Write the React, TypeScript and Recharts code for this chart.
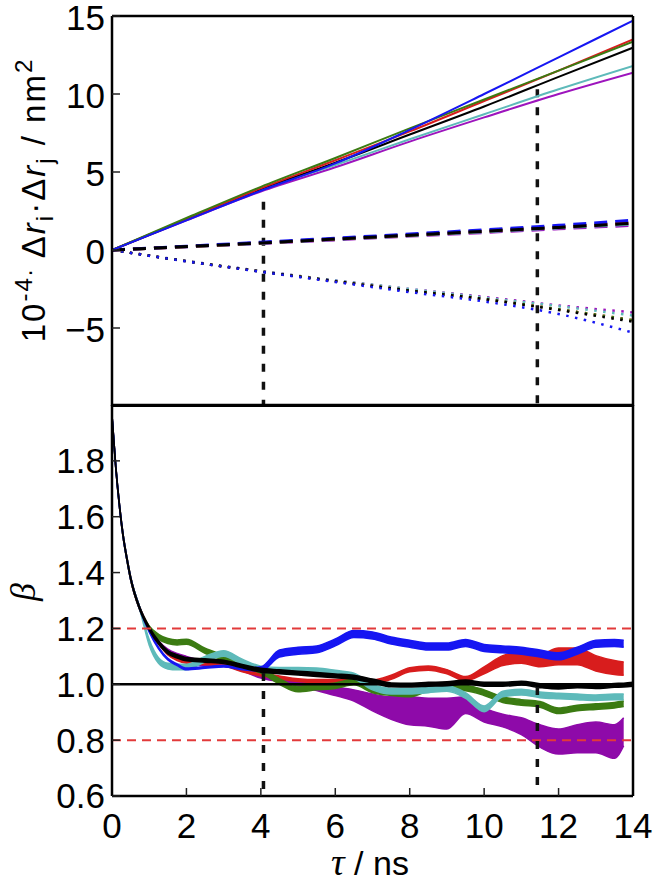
import { Area, ComposedChart, Line, ReferenceLine, XAxis, YAxis } from "recharts"

const SANS = "'Liberation Sans', Arial, sans-serif"
const SERIF = "'Liberation Serif', 'DejaVu Serif', serif"

// colours
const BLUE = "#1616f2"
const RED = "#d81d1d"
const GREEN = "#3b7b12"
const CYAN = "#5ebaba"
const PURPLE = "#9d14bd"
const BAND_PURPLE = "#8e0aa9"

// ---- upper panel: mean squared displacement components ----
const topTau = [0, 2, 4, 6, 8, 10, 12, 14]

const solidBlue = [0, 1.9, 3.8, 5.55, 7.7, 10.0, 12.35, 14.7]
const solidRed = [0, 2.0, 3.95, 5.75, 7.6, 9.55, 11.5, 13.5]
const solidGreen = [0, 2.05, 4.05, 5.9, 7.8, 9.65, 11.5, 13.36]
const solidBlack = [0, 1.95, 3.9, 5.6, 7.4, 9.2, 11.1, 12.97]
const solidCyan = [0, 1.95, 3.85, 5.45, 7.1, 8.7, 10.3, 11.8]
const solidPurple = [0, 1.9, 3.75, 5.3, 6.95, 8.5, 10.0, 11.37]

const dashBlue = [0, 0.24, 0.5, 0.76, 1.02, 1.3, 1.58, 1.92]
const dashRed = [0, 0.22, 0.46, 0.71, 0.96, 1.22, 1.48, 1.75]
const dashGreen = [0, 0.22, 0.46, 0.71, 0.96, 1.21, 1.47, 1.74]
const dashCyan = [0, 0.21, 0.44, 0.68, 0.92, 1.17, 1.42, 1.66]
const dashPurple = [0, 0.2, 0.42, 0.65, 0.89, 1.12, 1.36, 1.58]
const dashBlack = [0, 0.22, 0.45, 0.7, 0.95, 1.2, 1.45, 1.72]

const dotPurple = [0, -0.7, -1.35, -1.95, -2.5, -3.0, -3.55, -4.0]
const dotCyan = [0, -0.7, -1.35, -1.95, -2.5, -3.05, -3.6, -4.2]
const dotRed = [0, -0.72, -1.38, -2.0, -2.6, -3.15, -3.8, -4.5]
const dotGreen = [0, -0.72, -1.38, -2.0, -2.6, -3.15, -3.8, -4.5]
const dotBlack = [0, -0.72, -1.38, -2.0, -2.6, -3.15, -3.85, -4.6]
const dotBlue = [0, -0.73, -1.4, -2.05, -2.7, -3.3, -4.1, -5.3]

const topTicks = [-5, 0, 5, 10, 15]
const tauTicks = [0, 2, 4, 6, 8, 10, 12, 14]

// vertical markers (shared by both panels)
const markerTau = [4.07, 11.43]
const markerTopFrom = [3.1, 10.3]
const markerBetaFrom = [1.04, 0.99]

// ---- lower panel: beta(tau) bands ----
const betaTau = [
  0, 0.1, 0.2, 0.3, 0.4, 0.5, 0.75, 1, 1.25, 1.5, 1.75, 2, 2.5, 3, 3.5, 4, 4.5, 5, 5.5, 6, 6.5, 7, 7.5, 8, 8.5, 9, 9.5,
  10, 10.5, 11, 11.5, 12, 12.5, 13, 13.5, 13.75, 14,
]
const earlyBeta = [1.96, 1.78, 1.64, 1.53, 1.45, 1.38, 1.27]

const betaBlack = [
  ...earlyBeta, 1.2, 1.15, 1.115, 1.1, 1.09, 1.085, 1.08, 1.065, 1.05, 1.045, 1.04, 1.035, 1.03, 1.025, 1.012, 0.998,
  0.997, 1.0, 1.002, 1.008, 1.0, 1.0, 1.004, 0.995, 0.99, 0.995, 0.992, 0.996, 0.997, 1.0,
]
const widthBlack = [
  0.01, 0.01, 0.01, 0.01, 0.01, 0.01, 0.01, 0.012, 0.012, 0.012, 0.012, 0.012, 0.012, 0.012, 0.012, 0.014, 0.014,
  0.014, 0.014, 0.014, 0.014, 0.014, 0.014, 0.014, 0.014, 0.014, 0.014, 0.014, 0.014, 0.014, 0.014, 0.014, 0.014,
  0.014, 0.014, 0.014, 0.014,
]

const betaBlue = [
  ...earlyBeta, 1.19, 1.13, 1.09, 1.07, 1.055, 1.06, 1.065, 1.055, 1.055, 1.11, 1.12, 1.125, 1.15, 1.18, 1.175, 1.157,
  1.145, 1.135, 1.135, 1.148, 1.13, 1.125, 1.12, 1.11, 1.1, 1.12, 1.145, 1.148, 1.145,
]
const widthBlue = [
  0.006, 0.006, 0.006, 0.006, 0.006, 0.006, 0.006, 0.006, 0.006, 0.006, 0.006, 0.006, 0.006, 0.006, 0.006, 0.015,
  0.025, 0.025, 0.025, 0.025, 0.025, 0.025, 0.025, 0.025, 0.025, 0.025, 0.025, 0.025, 0.025, 0.025, 0.025, 0.025,
  0.025, 0.025, 0.025, 0.025,
]

const betaRed = [
  ...earlyBeta, 1.2, 1.15, 1.11, 1.09, 1.08, 1.075, 1.07, 1.05, 1.035, 1.025, 1.015, 1.012, 1.012, 1.012, 1.008, 1.025,
  1.052, 1.058, 1.045, 1.02, 1.05, 1.085, 1.095, 1.085, 1.1, 1.1, 1.075, 1.06, 1.056,
]
const widthRed = [
  0.008, 0.008, 0.008, 0.008, 0.008, 0.008, 0.008, 0.01, 0.01, 0.01, 0.01, 0.01, 0.01, 0.01, 0.01, 0.01, 0.01, 0.01,
  0.01, 0.01, 0.01, 0.015, 0.015, 0.015, 0.015, 0.015, 0.015, 0.025, 0.035, 0.04, 0.045, 0.06, 0.06, 0.055, 0.05,
  0.048,
]

const betaGreen = [
  ...earlyBeta, 1.2, 1.17, 1.155, 1.15, 1.152, 1.12, 1.095, 1.07, 1.05, 1.01, 0.983, 0.99, 0.995, 1.008, 0.98, 0.97,
  0.965, 0.985, 0.99, 0.987, 0.97, 0.945, 0.935, 0.928, 0.905, 0.915, 0.92, 0.925, 0.93,
]
const widthGreen = [
  0.01, 0.01, 0.01, 0.01, 0.01, 0.01, 0.01, 0.018, 0.018, 0.018, 0.018, 0.018, 0.018, 0.018, 0.018, 0.02, 0.02, 0.02,
  0.02, 0.02, 0.02, 0.02, 0.02, 0.02, 0.02, 0.02, 0.02, 0.02, 0.02, 0.02, 0.02, 0.02, 0.02, 0.02, 0.02, 0.02,
]

const betaCyan = [
  ...earlyBeta, 1.15, 1.085, 1.065, 1.062, 1.062, 1.09, 1.11, 1.08, 1.055, 1.05, 1.05, 1.048, 1.04, 1.03, 0.99, 0.975,
  0.975, 0.98, 0.985, 0.96, 0.912, 0.965, 0.972, 0.962, 0.958, 0.955, 0.952, 0.955, 0.955,
]
const widthCyan = [
  0.008, 0.008, 0.008, 0.008, 0.008, 0.008, 0.008, 0.02, 0.02, 0.02, 0.02, 0.02, 0.02, 0.02, 0.02, 0.02, 0.02, 0.02,
  0.02, 0.02, 0.02, 0.02, 0.02, 0.02, 0.02, 0.02, 0.02, 0.02, 0.02, 0.02, 0.02, 0.02, 0.02, 0.02, 0.02, 0.02,
]

const betaPurple = [
  ...earlyBeta, 1.2, 1.15, 1.12, 1.1, 1.09, 1.075, 1.075, 1.057, 1.03, 1.018, 1.005, 0.99, 0.975, 0.96, 0.935, 0.915,
  0.905, 0.9, 0.895, 0.925, 0.89, 0.87, 0.85, 0.815, 0.795, 0.805, 0.81, 0.795, 0.83,
]
const widthPurple = [
  0.01, 0.01, 0.01, 0.01, 0.01, 0.01, 0.01, 0.012, 0.012, 0.012, 0.02, 0.02, 0.02, 0.02, 0.02, 0.015, 0.018, 0.02,
  0.025, 0.03, 0.04, 0.06, 0.08, 0.1, 0.1, 0.11, 0.06, 0.05, 0.045, 0.06, 0.08, 0.09, 0.1, 0.11, 0.12, 0.1,
]

const betaTicks = [0.6, 0.8, 1.0, 1.2, 1.4, 1.6, 1.8]
const betaLimits = [0.8, 1.2]

const topRows = topTau.map((tau, i) => ({
  tau,
  sBlue: solidBlue[i], sRed: solidRed[i], sGreen: solidGreen[i], sBlack: solidBlack[i], sCyan: solidCyan[i], sPurple: solidPurple[i],
  dBlue: dashBlue[i], dRed: dashRed[i], dGreen: dashGreen[i], dCyan: dashCyan[i], dPurple: dashPurple[i], dBlack: dashBlack[i],
  oPurple: dotPurple[i], oCyan: dotCyan[i], oRed: dotRed[i], oGreen: dotGreen[i], oBlack: dotBlack[i], oBlue: dotBlue[i],
}))

const bandRows = (mid: number[], width: number[]) =>
  mid.map((m, i) => ({ tau: betaTau[i], range: [m - width[i] / 2, m + width[i] / 2] }))

const bands = [
  { name: "purple", color: BAND_PURPLE, rows: bandRows(betaPurple, widthPurple) },
  { name: "red", color: RED, rows: bandRows(betaRed, widthRed) },
  { name: "green", color: GREEN, rows: bandRows(betaGreen, widthGreen) },
  { name: "cyan", color: CYAN, rows: bandRows(betaCyan, widthCyan) },
  { name: "blue", color: BLUE, rows: bandRows(betaBlue, widthBlue) },
  { name: "black", color: "#000", rows: bandRows(betaBlack, widthBlack) },
]

const AXIS = { stroke: "#000", strokeWidth: 2.5 }
const TICK = { stroke: "#222", strokeWidth: 1.5 }
const TICK_TEXT = { fontSize: 35, fill: "#000", fontFamily: SANS }

const solidLines = [
  ["sPurple", PURPLE], ["sCyan", CYAN], ["sBlack", "#000"], ["sRed", RED], ["sGreen", GREEN], ["sBlue", BLUE],
]
const dashLines = [
  ["dPurple", PURPLE], ["dCyan", CYAN], ["dGreen", GREEN], ["dRed", RED], ["dBlue", BLUE], ["dBlack", "#000"],
]
const dotLines = [
  ["oPurple", PURPLE], ["oCyan", CYAN], ["oRed", RED], ["oGreen", GREEN], ["oBlack", "#000"], ["oBlue", BLUE],
]

const TopYLabel = () => (
  <text transform="translate(45, 200) rotate(-90)" textAnchor="middle" fontFamily={SANS} fontSize={33}
    letterSpacing={2} fill="#000">
    10
    <tspan dy={-13} fontSize={24}>-4.</tspan>
    <tspan dy={13}> Δ</tspan>
    <tspan fontStyle="italic">r</tspan>
    <tspan dy={8} fontSize={24}>i</tspan>
    <tspan dy={-8}>·Δ</tspan>
    <tspan fontStyle="italic">r</tspan>
    <tspan dy={8} fontSize={24}>j</tspan>
    <tspan dy={-8}> / nm</tspan>
    <tspan dy={-13} fontSize={24}>2</tspan>
  </text>
)

const BetaLabel = () => (
  <text transform="translate(35, 192) rotate(-90)" textAnchor="middle" fontFamily={SERIF} fontStyle="italic" fontSize={36} fill="#000">
    β
  </text>
)

const TauLabel = () => (
  <text x={370} y={475} textAnchor="middle" fontFamily={SANS} fontSize={34} fill="#000">
    <tspan fontFamily={SERIF} fontStyle="italic" fontSize={38}>τ</tspan> / ns
  </text>
)

function TopPanel() {
  return (
    <ComposedChart width={655} height={407} data={topRows} margin={{ top: 15, right: 21, bottom: 0, left: 0 }}>
      <XAxis xAxisId="b" dataKey="tau" type="number" domain={[0, 14]} ticks={tauTicks} allowDataOverflow
        tick={false} tickSize={-8} height={1} axisLine={AXIS} tickLine={TICK} />
      <XAxis xAxisId="t" orientation="top" type="number" domain={[0, 14]} ticks={tauTicks} allowDataOverflow
        tick={false} tickSize={-8} height={1} axisLine={AXIS} tickLine={TICK} />
      <YAxis yAxisId="l" type="number" domain={[-10, 15]} ticks={topTicks} allowDataOverflow interval={0}
        width={112} tickSize={-8} tickMargin={15} axisLine={AXIS} tickLine={TICK} tick={{ ...TICK_TEXT, dy: 2 }}
        tickFormatter={(v: number) => (v < 0 ? `\u2212${Math.abs(v)}` : `${v}`)}
        label={{ content: () => <TopYLabel /> }} />
      <YAxis yAxisId="r" orientation="right" type="number" domain={[-10, 15]} ticks={topTicks} allowDataOverflow
        width={1} tick={false} tickSize={-8} axisLine={AXIS} tickLine={TICK} />

      {markerTau.map((t, i) => (
        <ReferenceLine key={`mt-${i}`} xAxisId="b" yAxisId="l" stroke="#111" strokeWidth={3.5} strokeDasharray="8 10"
          segment={[{ x: t, y: markerTopFrom[i] }, { x: t, y: -10 }]} />
      ))}

      {dotLines.map(([key, color]) => (
        <Line key={key} xAxisId="b" yAxisId="l" dataKey={key} type="monotone" stroke={color} strokeWidth={2.5}
          strokeDasharray="2.5 6.5" dot={false} isAnimationActive={false} />
      ))}
      {dashLines.map(([key, color]) => (
        <Line key={key} xAxisId="b" yAxisId="l" dataKey={key} type="monotone" stroke={color} strokeWidth={3}
          strokeDasharray="13 8" dot={false} isAnimationActive={false} />
      ))}
      {solidLines.map(([key, color]) => (
        <Line key={key} xAxisId="b" yAxisId="l" dataKey={key} type="monotone" stroke={color} strokeWidth={2}
          dot={false} isAnimationActive={false} />
      ))}
    </ComposedChart>
  )
}

function BottomPanel() {
  return (
    <ComposedChart width={655} height={484} margin={{ top: 4, right: 21, bottom: 0, left: 0 }}>
      <XAxis xAxisId="b" dataKey="tau" type="number" domain={[0, 14]} ticks={tauTicks} allowDataOverflow interval={0}
        height={88} tickSize={-8} tickMargin={25} axisLine={AXIS} tickLine={TICK} tick={TICK_TEXT}
        label={{ content: () => <TauLabel /> }} />
      <XAxis xAxisId="t" orientation="top" type="number" domain={[0, 14]} ticks={tauTicks} allowDataOverflow
        tick={false} tickSize={-8} height={1} axisLine={AXIS} tickLine={TICK} />
      <YAxis yAxisId="l" type="number" domain={[0.6, 2.0]} ticks={betaTicks} allowDataOverflow interval={0}
        width={112} tickSize={-8} tickMargin={15} axisLine={AXIS} tickLine={TICK} tick={TICK_TEXT}
        tickFormatter={(v: number) => v.toFixed(1)}
        label={{ content: () => <BetaLabel /> }} />
      <YAxis yAxisId="r" orientation="right" type="number" domain={[0.6, 2.0]} ticks={betaTicks} allowDataOverflow
        width={1} tick={false} tickSize={-8} axisLine={AXIS} tickLine={TICK} />

      {betaLimits.map((b) => (
        <ReferenceLine key={`lim-${b}`} xAxisId="b" yAxisId="l" y={b} stroke="#e23a3a" strokeWidth={2}
          strokeDasharray="9 6" />
      ))}
      <ReferenceLine xAxisId="b" yAxisId="l" y={1} stroke="#000" strokeWidth={2.5} />
      {markerTau.map((t, i) => (
        <ReferenceLine key={`mb-${i}`} xAxisId="b" yAxisId="l" stroke="#111" strokeWidth={3.5} strokeDasharray="8 10"
          segment={[{ x: t, y: markerBetaFrom[i] }, { x: t, y: 0.6 }]} />
      ))}

      {bands.map((b) => (
        <Area key={b.name} xAxisId="b" yAxisId="l" data={b.rows} dataKey="range" type="monotone" stroke={b.color}
          strokeWidth={1.5} fill={b.color} fillOpacity={1} dot={false} activeDot={false} isAnimationActive={false} />
      ))}
    </ComposedChart>
  )
}

export default function App() {
  return (
    <div style={{ position: "absolute", left: 0, top: 0, width: 655, height: 884, background: "#fff" }}>
      <div style={{ position: "absolute", left: 0, top: 0 }}>
        <TopPanel />
      </div>
      <div style={{ position: "absolute", left: 0, top: 400 }}>
        <BottomPanel />
      </div>
    </div>
  )
}
